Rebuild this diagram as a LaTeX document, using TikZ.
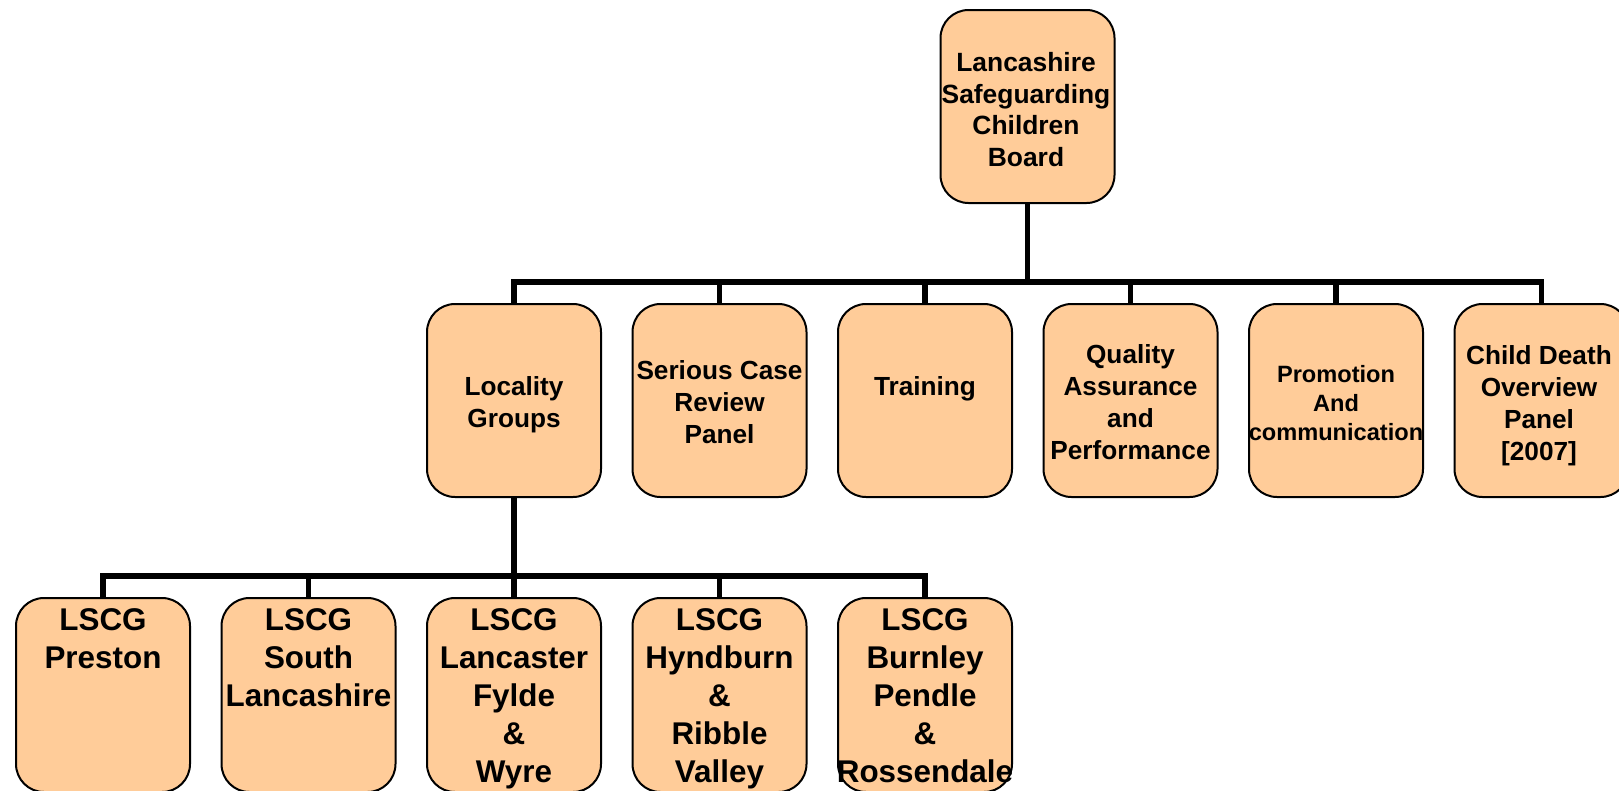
\documentclass[tikz,border=0pt]{standalone}
\usepackage{fontspec}
\setmainfont{Liberation Sans}
\definecolor{peach}{HTML}{FFCC99}
\begin{document}
\begin{tikzpicture}[x=1pt,y=-1pt,
  box/.style={draw=black, line width=2pt, fill=peach, rounded corners=28pt,
              minimum width=174pt, minimum height=193pt, inner sep=0pt},
  lowbox/.style={box, minimum height=194pt},
  conn/.style={line width=5.5pt, line join=miter},
  txt/.style={inner sep=0pt, align=center, anchor=north,
              font=\bfseries\fontsize{26.4}{31.7}\selectfont},
  midtxt/.style={txt, font=\bfseries\fontsize{26.2}{32}\selectfont},
  smalltxt/.style={txt, font=\bfseries\fontsize{23.6}{29}\selectfont},
  lowtxt/.style={txt, font=\bfseries\fontsize{31.4}{38}\selectfont}]
\useasboundingbox (0,0) rectangle (1619,790);
\clip (0,0) rectangle (1619,790);
\fill[white] (0,0) rectangle (1619,790);

% boxes
\node[box] (top) at (1027.5,106.5) {};
\node[box] (m1) at (514,400.5) {};
\node[box] (m2) at (719.5,400.5) {};
\node[box] (m3) at (925,400.5) {};
\node[box] (m4) at (1130.5,400.5) {};
\node[box] (m5) at (1336,400.5) {};
\node[box] (m6) at (1541.5,400.5) {};
\node[lowbox] (b1) at (103,695) {};
\node[lowbox] (b2) at (308.5,695) {};
\node[lowbox] (b3) at (514,695) {};
\node[lowbox] (b4) at (719.5,695) {};
\node[lowbox] (b5) at (925,695) {};

% texts
\node[txt] (ttop) at (1026,52) {Lancashire\\Safeguarding\\Children\\Board};
\node[midtxt] (tm1) at (514,376.5) {Locality\\Groups};
\node[midtxt] (tm2) at (719.5,360.5) {Serious Case\\Review\\Panel};
\node[midtxt] (tm3) at (925,376.5) {Training};
\node[midtxt] (tm4) at (1130.5,344.5) {Quality\\Assurance\\and\\Performance};
\node[smalltxt] (tm5) at (1336,365) {Promotion\\And\\communication};
\node[midtxt] (tm6) at (1539,345) {Child Death\\Overview\\Panel\\{[2007]}};
\node[lowtxt] (tb1) at (103,608.5) {LSCG\\Preston};
\node[lowtxt] (tb2) at (308.5,608.5) {LSCG\\South\\Lancashire};
\node[lowtxt] (tb3) at (514,608.5) {LSCG\\Lancaster\\Fylde\\\&\\Wyre};
\node[lowtxt] (tb4) at (719.5,608.5) {LSCG\\Hyndburn\\\&\\Ribble\\Valley};
\node[lowtxt] (tb5) at (925,608.5) {LSCG\\Burnley\\Pendle\\\&\\Rossendale};

% connectors
\coordinate (bus1) at (1027.5,282);
\coordinate (bus2) at (514,576);
\foreach \m in {m1,m2,m3,m4,m5,m6}
  \draw[conn] (top.south) -- (bus1) -| (\m.north);
\foreach \b in {b1,b2,b3,b4,b5}
  \draw[conn] (m1.south) -- (bus2) -| (\b.north);
\end{tikzpicture}
\end{document}
